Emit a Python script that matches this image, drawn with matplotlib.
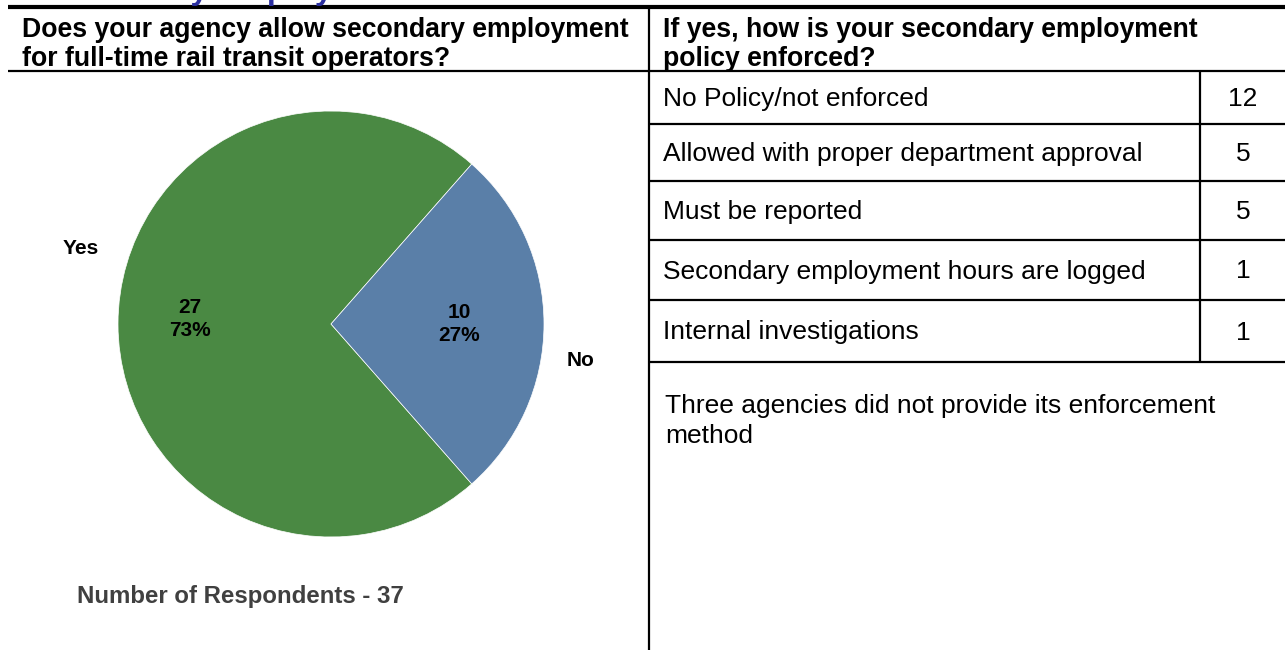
import matplotlib
matplotlib.use("Agg")
import matplotlib.pyplot as plt
from matplotlib.lines import Line2D

plt.rcParams['font.family'] = ['Liberation Sans', 'DejaVu Sans']

# Survey data
pie_labels = ["Yes", "No"]
pie_counts = [27, 10]
pie_colors = ["#4A8943", "#5A7FA8"]
respondents = 37

method_labels = [
    "No Policy/not enforced",
    "Allowed with proper department approval",
    "Must be reported",
    "Secondary employment hours are logged",
    "Internal investigations",
]
method_counts = [12, 5, 5, 1, 1]

title_text = "Secondary Employment"
left_question = "Does your agency allow secondary employment\nfor full-time rail transit operators?"
right_question = "If yes, how is your secondary employment\npolicy enforced?"
footnote = "Three agencies did not provide its enforcement\nmethod"

W, H = 1285, 650
fig = plt.figure(figsize=(W / 100, H / 100), dpi=100)


def fx(x):
    return x / W


def fy(y):
    return 1 - y / H


def hline(y, x0, x1, lw=1.5):
    fig.add_artist(Line2D([fx(x0), fx(x1)], [fy(y), fy(y)], color="black",
                          lw=lw, transform=fig.transFigure, solid_capstyle="butt"))


def vline(x, y0, y1, lw=1.5):
    fig.add_artist(Line2D([fx(x), fx(x)], [fy(y0), fy(y1)], color="black",
                          lw=lw, transform=fig.transFigure, solid_capstyle="butt"))


# Section title sitting above the frame (only its descenders fall inside)
fig.text(fx(45), fy(-1), title_text, color="#2B2FA0", fontsize=23,
         fontweight="bold", ha="left", va="baseline")

# Frame lines
hline(7, 8, W, lw=3)
vline(649, 7, H, lw=1.6)
hline(71, 8, W, lw=1.6)

# Question headers
fig.text(fx(22), fy(44.5), left_question, fontsize=19.2, fontweight="bold",
         ha="left", va="center", linespacing=1.15)
fig.text(fx(663), fy(44.5), right_question, fontsize=19.2, fontweight="bold",
         ha="left", va="center", linespacing=1.15)

# Enforcement table
row_edges = [71, 124, 181, 240, 300, 362]
for y in row_edges[1:]:
    hline(y, 649, W, lw=1.6)
vline(1200, 71, 362, lw=1.6)
for i, (lab, cnt) in enumerate(zip(method_labels, method_counts)):
    yc = (row_edges[i] + row_edges[i + 1]) / 2 + 1.5
    fig.text(fx(663), fy(yc), lab, fontsize=19, ha="left", va="center")
    fig.text(fx(1243), fy(yc), str(cnt), fontsize=19, ha="center", va="center")

fig.text(fx(665), fy(421), footnote, fontsize=19, ha="left", va="center",
         linespacing=1.34)

# Pie chart: radius 1 maps to 213 px, centred at (331, 324)
R = 213.0
half = 300.0
ax = fig.add_axes([fx(331 - half), fy(324 + half), 2 * half / W, 2 * half / H])

total = sum(pie_counts)
start = 360 - (pie_counts[0] / total) * 360 - (pie_counts[1] / total) * 180
wedges, _ = ax.pie(pie_counts, colors=pie_colors, startangle=start,
                   radius=1.0, center=(0, 0), frame=False,
                   wedgeprops=dict(linewidth=0.5, edgecolor="white"))
ax.set_xlim(-half / R, half / R)
ax.set_ylim(-half / R, half / R)
ax.set_aspect("equal")
ax.axis("off")

inner_pos = [(-141 / R, 5 / R), (128 / R, 0 / R)]
outer_pos = [(-250 / R, 76 / R), (250 / R, -36 / R)]
for (ix, iy), (ox, oy), lab, cnt in zip(inner_pos, outer_pos, pie_labels, pie_counts):
    pct = round(100 * cnt / total)
    ax.text(ix, iy, f"{cnt}\n{pct}%", fontsize=15, fontweight="bold",
            ha="center", va="center", linespacing=1.3)
    ax.text(ox, oy, lab, fontsize=15, fontweight="bold", ha="center", va="center")

fig.text(fx(77), fy(597), f"Number of Respondents - {respondents}", fontsize=17.3,
         fontweight="bold", color="#404040", ha="left", va="center")

fig.savefig("out.png", dpi=100)
